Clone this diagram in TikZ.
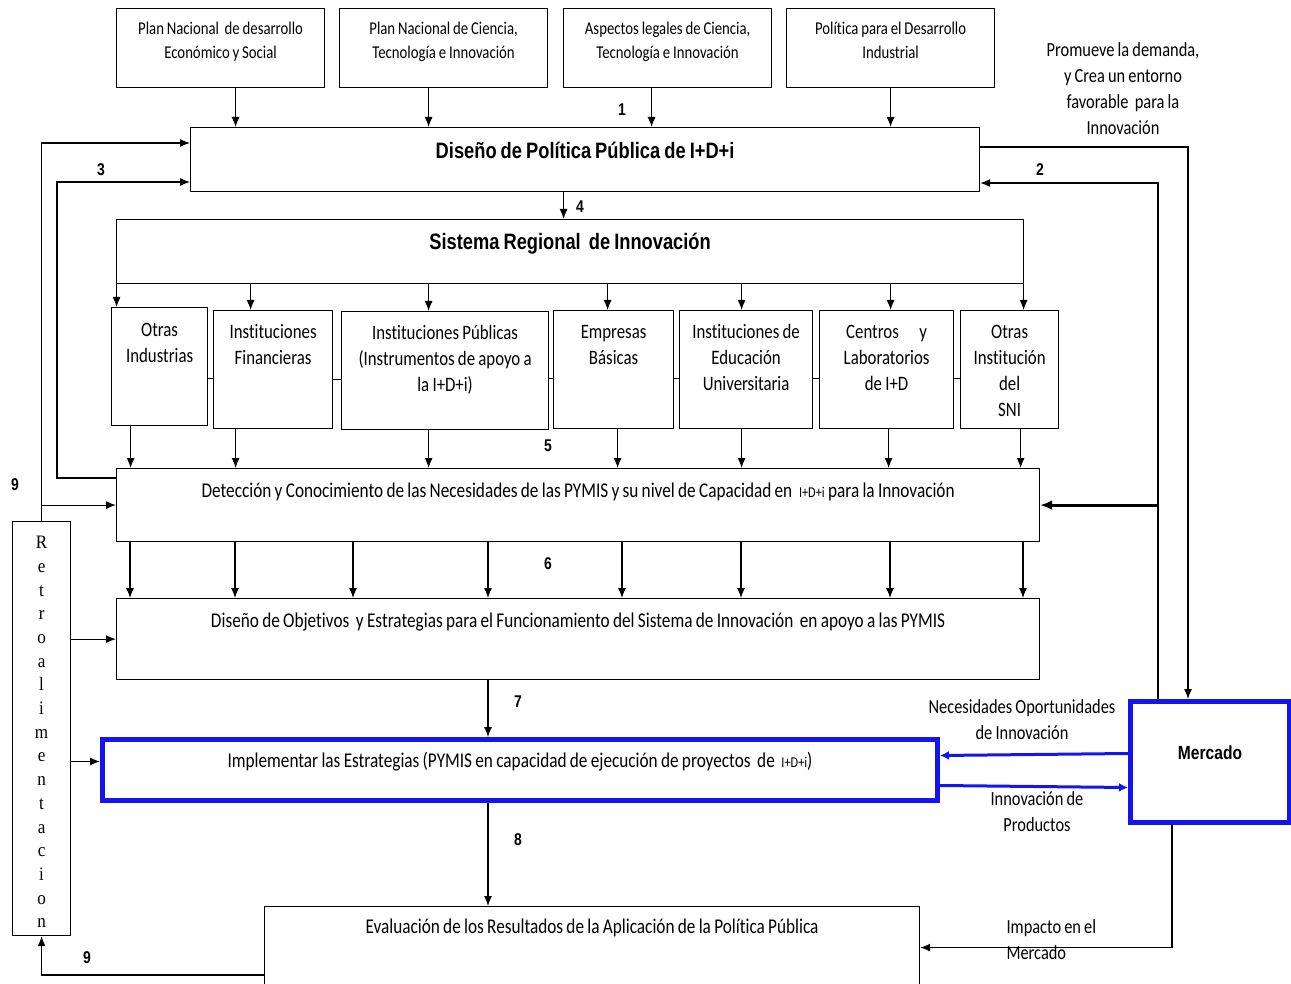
\documentclass[tikz,border=0pt]{standalone}
\usepackage{fontspec}
\setmainfont{Carlito}[FakeStretch=0.82, WordSpace=0.85, Ligatures=NoCommon]
\newfontfamily\headfont{Liberation Sans}[FakeStretch=0.82, WordSpace=0.8]
\newfontfamily\retrofont{Liberation Serif}[FakeStretch=0.9]
\usetikzlibrary{arrows.meta}
\definecolor{mblue}{RGB}{20,20,240}

\begin{document}
\begin{tikzpicture}[x=1pt, y=-1pt,
    box/.style={draw, line width=1.2pt, anchor=north west, inner sep=0pt, align=flush center},
    bluebox/.style={box, draw=mblue, line width=5pt},
    arr/.style={-{Latex[length=10pt,width=8pt]}, line width=1.2pt},
    barr/.style={-{Latex[length=9pt,width=9pt]}, draw=mblue, line width=3pt},
    num/.style={font=\headfont\bfseries\fontsize{17}{17}\selectfont},
    side/.style={align=center, font=\fontsize{20}{26}\selectfont},
    toptxt/.style={font=\fontsize{18}{24}\selectfont},
    smalltxt/.style={font=\fontsize{20.5}{26}\selectfont},
    bodytxt/.style={font=\fontsize{21}{24}\selectfont},
    headtxt/.style={font=\headfont\bfseries\fontsize{22.3}{26}\selectfont}]
    \useasboundingbox (0,0) rectangle (1291,984);

    % Fuentes de la politica
    \node[box, toptxt, text width=208, text height=26, text depth=53] (plan) at (116,8)
        {Plan Nacional \ de desarrollo\\Económico y Social};
    \node[box, toptxt, text width=208, text height=26, text depth=53] (ciencia) at (339,8)
        {Plan Nacional de Ciencia,\\Tecnología e Innovación};
    \node[box, toptxt, text width=208, text height=26, text depth=53] (legal) at (563,8)
        {Aspectos legales de Ciencia,\\Tecnología e Innovación};
    \node[box, toptxt, text width=208, text height=26, text depth=53] (indus) at (786,8)
        {Política para el Desarrollo\\Industrial};

    % Diseno de politica y sistema regional
    \node[box, headtxt, text width=789, text height=31, text depth=33] (dpp) at (190,127)
        {Diseño de Política Pública de I+D+i};
    \node[box, headtxt, text width=907, text height=30, text depth=34] (sri) at (116,219)
        {Sistema Regional \ de Innovación};

    % Actores del sistema
    \node[box, smalltxt, text width=96, text height=29, text depth=89] (otras) at (111,307)
        {Otras\\Industrias};
    \node[box, smalltxt, text width=119, text height=28, text depth=90] (financ) at (213,310)
        {Instituciones\\Financieras};
    \node[box, smalltxt, text width=207, text height=28, text depth=90] (publicas) at (341,311)
        {Instituciones Públicas\\(Instrumentos de apoyo a\\la I+D+i)};
    \node[box, smalltxt, text width=120, text height=28, text depth=90] (empresas) at (553,310)
        {Empresas\\Básicas};
    \node[box, smalltxt, text width=133, text height=28, text depth=90] (educ) at (679,310)
        {Instituciones de\\Educación\\Universitaria};
    \node[box, smalltxt, text width=134, text height=28, text depth=90] (centros) at (819,310)
        {Centros\quad y\\Laboratorios\\de I+D};
    \node[box, smalltxt, text width=98, text height=28, text depth=90] (sni) at (960,310)
        {Otras\\Institución\\del\\SNI};

    % Etapas
    \node[box, bodytxt, text width=923, text height=29, text depth=44] (det) at (116,468)
        {Detección y Conocimiento de las Necesidades de las PYMIS y su nivel de Capacidad en \ {\fontsize{15}{15}\selectfont I+D+i} para la Innovación};
    \node[box, bodytxt, text width=923, text height=29, text depth=52] (obj) at (116,598)
        {Diseño de Objetivos \ y Estrategias para el Funcionamiento del Sistema de Innovación \ en apoyo a las PYMIS};
    \node[bluebox, bodytxt, text width=835, text height=28, text depth=33] (impl) at (100,737)
        {Implementar las Estrategias (PYMIS en capacidad de ejecución de proyectos \ de \ {\fontsize{15}{15}\selectfont I+D+i})};
    \node[box, bodytxt, text width=655, text height=27, text depth=55] (eval) at (264,906)
        {Evaluación de los Resultados de la Aplicación de la Política Pública};
    \node[bluebox, font=\headfont\bfseries\fontsize{19}{19}\selectfont, text width=159, text height=58, text depth=63] (merc) at (1128,699)
        {Mercado};
    \node[box, font=\retrofont\fontsize{19}{23.7}\selectfont, text width=58, text height=27, text depth=387] (retro) at (12,521)
        {R\\e\\t\\r\\o\\a\\l\\i\\m\\e\\n\\t\\a\\c\\i\\o\\n};

    % Flechas principales
    \foreach \b/\d in {plan/15, ciencia/-15, legal/-16, indus/0}
        \draw[arr] ([xshift=\d]\b.south) -- ([xshift=\d]\b.south |- dpp.north);
    \draw[arr] ([xshift=-21.5]dpp.south) -- ([xshift=-21.5]dpp.south |- sri.north);
    \foreach \b/\u/\d in {otras/-43/-29, financ/-22.5/-37.5, publicas/-16.5/-16.5, empresas/-6/4,
                          educ/-4.5/-4.5, centros/4/2, sni/14/11} {
        \draw[arr] ([xshift=\u]\b.north |- sri.south) -- ([xshift=\u]\b.north);
        \draw[arr] ([xshift=\d]\b.south) -- ([xshift=\d]\b.south |- det.north);
    }
    \foreach \a/\b in {otras/financ, financ/publicas, publicas/empresas, empresas/educ, educ/centros, centros/sni}
        \draw[line width=1.2pt] ([yshift=-9]\b.west -| \a.east) -- ([yshift=-9]\b.west);
    \foreach \d in {14, 119, 237, 372, 506, 625, 774, 907}
        \draw[arr] ([xshift=\d]det.south west) -- ([xshift=\d]det.south west |- obj.north);
    \draw[arr] ([xshift=372]obj.south west) -- ([xshift=372]obj.south west |- impl.north);
    \draw[arr] ([xshift=388]impl.south west) -- ([xshift=388]impl.south west |- eval.north);

    % Retroalimentacion
    \draw[arr] (retro.north) |- ([yshift=-16]dpp.north west);
    \draw[arr] (retro.north |- det.west) -- (det.west);
    \draw[arr] ([yshift=-10]det.north west) -- ++(-59,0) |- ([yshift=-55]dpp.north west);
    \draw[arr] (retro.east |- obj.west) -- (obj.west);
    \draw[arr] ([yshift=8.5]impl.west -| retro.east) -- ([yshift=8.5]impl.west);
    \draw[arr] ([yshift=-69]eval.north west) -| (retro.south);

    % Mercado
    \draw[arr] ([yshift=-20]dpp.north east) -| ([xshift=60]merc.north west);
    \draw[arr] ([xshift=30]merc.north west) |- ([yshift=-56]dpp.north east);
    \draw[-{Latex[length=12pt,width=10pt]}, line width=3pt] ([xshift=30]merc.north west |- det.east) -- (det.east);
    \draw[barr] ([yshift=8.5]merc.west) -- ([yshift=14.5]impl.east);
    \draw[barr] ([yshift=-15.5]impl.east) -- ([yshift=-25.5]merc.west);
    \draw[arr] ([xshift=44]merc.south west) |- (eval.east);

    % Textos
    \node[side] (promo) at (1123,89) {Promueve la demanda,\\y Crea un entorno\\favorable \ para la\\Innovación};
    \node[side] (neces) at (1022,720) {Necesidades Oportunidades\\de Innovación};
    \node[side] (prod) at (1037,812) {Innovación de\\Productos};
    \node[side, align=left, anchor=west] (impacto) at (1003,940) {Impacto en el\\Mercado};

    % Numeros
    \node[num] (n1) at (622,110) {1};
    \node[num] (n2) at (1040,170) {2};
    \node[num] (n3) at (101,170) {3};
    \node[num] (n4) at (580,207) {4};
    \node[num] (n5) at (548,446) {5};
    \node[num] (n6) at (548,564) {6};
    \node[num] (n7) at (518,702) {7};
    \node[num] (n8) at (518,840) {8};
    \node[num] (n9) at (87,958) {9};
    \node[num] (n9b) at (15,485) {9};
\end{tikzpicture}
\end{document}
